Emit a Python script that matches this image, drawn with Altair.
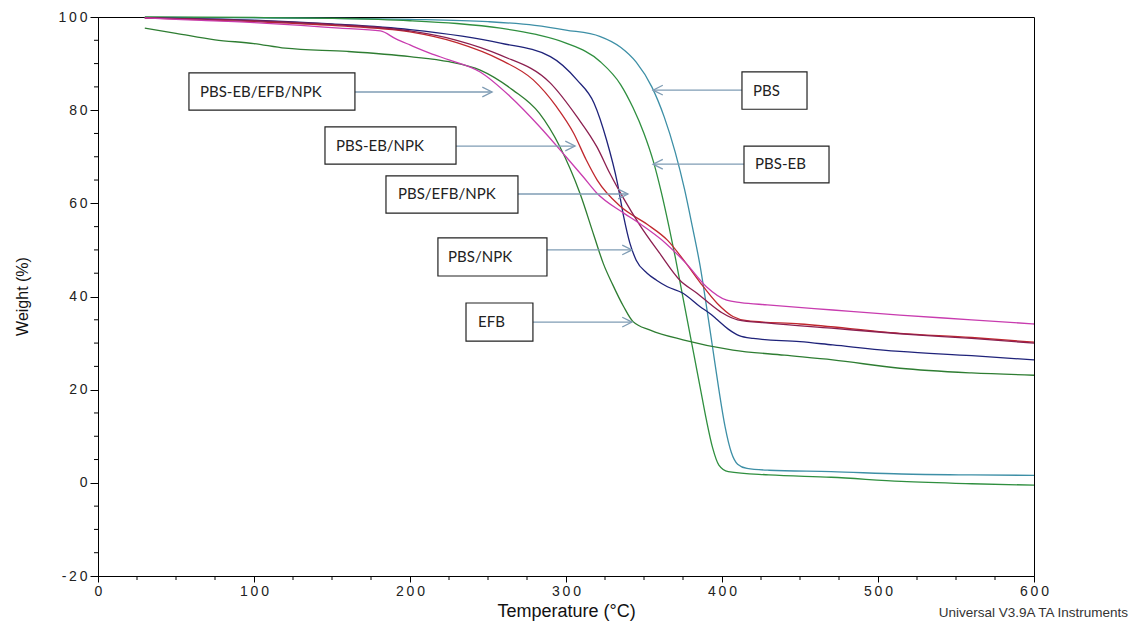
import altair as alt
import pandas as pd

# ---------------- data ----------------
SERIES = ["PBS", "PBS-EB", "EFB", "PBS/NPK", "PBS/EFB/NPK", "PBS-EB/NPK", "PBS-EB/EFB/NPK"]
COLORS = ["#3d8fa6", "#2f8f3f", "#2e7d32", "#1f237a", "#c0282e", "#8b1f4f", "#c83caf"]

PBS_T = [30, 100, 150, 200, 250, 280, 300, 322, 335, 345, 355, 363, 370, 376, 381, 386, 390, 394, 398, 402, 406, 410, 416, 430, 470, 515, 560, 600]
PBS_W = [99.9, 99.8, 99.7, 99.5, 99.0, 98.2, 97.2, 95.8, 93.5, 90.3, 85.0, 78.5, 71, 63, 55, 46.5, 38, 29, 20, 12, 6.5, 4.0, 3.1, 2.7, 2.4, 1.9, 1.7, 1.6]

PBSEB_T = [30, 100, 150, 200, 230, 258, 280, 300, 322, 335, 343, 350, 356, 361, 366, 370, 374, 378, 382, 386, 390, 394, 398, 404, 430, 470, 515, 560, 600]
PBSEB_W = [100, 99.9, 99.7, 99.2, 98.6, 97.6, 96.3, 94.4, 90.4, 85.5, 80.5, 75, 69, 62.5, 55, 48.5, 41.5, 34.5, 27.5, 20.5, 13.5, 7.5, 3.8, 2.4, 1.7, 1.2, 0.3, -0.2, -0.5]

EFB_T = [30, 50, 75, 100, 120, 160, 200, 225, 245, 266, 283, 296, 309, 318, 324, 330, 337, 343, 354, 375, 407, 440, 471, 514, 560, 600]
EFB_W = [97.6, 96.5, 95.1, 94.3, 93.3, 92.6, 91.5, 90.4, 88.6, 84.3, 79.3, 72.2, 62.1, 53, 47, 42.5, 37.8, 34.6, 32.8, 30.7, 28.5, 27.4, 26.4, 24.6, 23.6, 23.1]

PBSNPK_T = [30, 100, 150, 200, 258, 290, 307, 318, 326, 333, 337, 341, 345, 352, 358, 365, 375, 386, 392, 397, 404, 411, 420, 450, 471, 514, 560, 600]
PBSNPK_W = [99.8, 99.3, 98.5, 97.3, 94.4, 91.5, 86.5, 81.5, 73.6, 64.3, 57.1, 51.4, 47.8, 45, 43.5, 42.1, 40.7, 37.8, 36.4, 35.0, 33.0, 31.6, 31.0, 30.3, 29.6, 28.2, 27.3, 26.4]

PBSEFBNPK_T = [30, 100, 150, 200, 230, 258, 279, 294, 305, 313, 320, 335, 352, 365, 377, 386, 397, 407, 416, 450, 514, 560, 600]
PBSEFBNPK_W = [99.8, 99.0, 98.2, 96.8, 94.5, 90.8, 86.5, 80.7, 75, 69.3, 65, 59.3, 55.5, 52.1, 47.1, 43, 38.5, 35.7, 34.8, 34.1, 32.1, 31.2, 30.2]

PBSEBNPK_T = [30, 100, 150, 200, 230, 258, 290, 307, 320, 328, 337, 347, 360, 373, 384, 392, 400, 410, 430, 470, 514, 560, 600]
PBSEBNPK_W = [99.8, 99.2, 98.4, 97.0, 95.0, 91.8, 85.8, 78.6, 72.0, 66.5, 61.0, 55.5, 49.3, 43.5, 40.7, 38.5, 36.5, 35, 34.3, 33.2, 32, 31, 30]

PBSEBEFBNPK_T = [30, 50, 100, 130, 155, 181, 191, 200, 213, 225, 245, 264, 283, 300, 311, 320, 337, 347, 364, 377, 390, 403, 412, 429, 471, 514, 560, 600]
PBSEBEFBNPK_W = [99.8, 99.5, 98.8, 98.2, 97.6, 97.0, 95.3, 94.0, 92.2, 90.8, 88.2, 83.0, 76.5, 70, 65.7, 62.1, 57.9, 55.7, 51.4, 47.1, 42.1, 39.2, 38.7, 38.2, 37.1, 36, 35, 34.1]

# annotation boxes and arrows
LABELS = ["PBS-EB/EFB/NPK", "PBS-EB/NPK", "PBS/EFB/NPK", "PBS/NPK", "EFB", "PBS", "PBS-EB"]
BOX_X1 = [58.3, 145.5, 184.6, 217.9, 235.9, 412.8, 414.1]
BOX_X2 = [164.7, 229.5, 269.2, 287.8, 278.8, 454.5, 468.6]
BOX_TOP = [88.0, 76.4, 65.9, 52.6, 38.6, 88.2, 72.3]
BOX_BOT = [80.0, 68.4, 57.9, 44.4, 30.4, 80.2, 64.4]
TEXT_X = [65.4, 152.6, 192.3, 224.4, 243.6, 419.9, 421.2]
ARROW_Y = [83.9, 72.3, 62.0, 50.0, 34.5, 84.3, 68.4]
ARROW_START = [164.7, 229.5, 269.2, 287.8, 278.8, 412.8, 414.1]
ARROW_TIP = [252.6, 305.8, 339.7, 342.3, 342.3, 355.8, 355.8]
ARROW_ANGLE = [0, 0, 0, 0, 0, 180, 180]

X_MAJOR = [0, 100, 200, 300, 400, 500, 600]
Y_MAJOR = [-20, 0, 20, 40, 60, 80, 100]
X_MINOR = [25, 50, 75, 125, 150, 175, 225, 250, 275, 325, 350, 375, 425, 450, 475, 525, 550, 575]
Y_MINOR = [-15, -10, -5, 5, 10, 15, 25, 30, 35, 45, 50, 55, 65, 70, 75, 85, 90, 95]

FOOTER = "Universal V3.9A TA Instruments"

# ---------------- tables ----------------
CURVES = {
    "PBS": (PBS_T, PBS_W),
    "PBS-EB": (PBSEB_T, PBSEB_W),
    "EFB": (EFB_T, EFB_W),
    "PBS/NPK": (PBSNPK_T, PBSNPK_W),
    "PBS/EFB/NPK": (PBSEFBNPK_T, PBSEFBNPK_W),
    "PBS-EB/NPK": (PBSEBNPK_T, PBSEBNPK_W),
    "PBS-EB/EFB/NPK": (PBSEBEFBNPK_T, PBSEBEFBNPK_W),
}
rows = []
for name, (ts, ws) in CURVES.items():
    for t, w in zip(ts, ws):
        rows.append({"series": name, "T": t, "W": w})
curves = pd.DataFrame(rows)

boxes = pd.DataFrame({
    "label": LABELS, "x1": BOX_X1, "x2": BOX_X2, "top": BOX_TOP, "bot": BOX_BOT,
    "tx": TEXT_X, "ay": ARROW_Y, "a0": ARROW_START, "a1": ARROW_TIP, "ang": ARROW_ANGLE,
})
boxes["ty"] = (boxes["top"] + boxes["bot"]) / 2

xminor = pd.DataFrame({"t": X_MINOR})
yminor = pd.DataFrame({"w": Y_MINOR})
footer = pd.DataFrame({"txt": [FOOTER]})

W_PLOT, H_PLOT = 936, 559
xs = alt.Scale(domain=[0, 600], nice=False, zero=False)
ys = alt.Scale(domain=[-20, 100], nice=False, zero=False)
SPACED = "join(split(toString(datum.value), ''), '\u2009')"

x_axis = alt.Axis(values=X_MAJOR, title="Temperature (°C)", grid=False,
                  labelExpr=SPACED, labelFont="Liberation Sans", labelFontSize=14,
                  labelColor="#222222", labelPadding=2, labelFlush=False, labelOverlap=False,
                  tickSize=6, tickColor="#000000", domainColor="#000000",
                  titleFont="Liberation Sans", titleFontSize=18, titleFontWeight="normal",
                  titleColor="#111111", titleX=468, titleY=35, titleBaseline="middle")
y_axis = alt.Axis(values=Y_MAJOR, title="Weight (%)", grid=False,
                  labelExpr=SPACED, labelFont="Liberation Sans", labelFontSize=14,
                  labelColor="#222222", labelPadding=3, labelOverlap=False,
                  tickSize=8, tickColor="#000000", domainColor="#000000",
                  titleFont="Liberation Sans", titleFontSize=16, titleFontWeight="normal",
                  titleColor="#111111", titleX=-76, titleY=279, titleBaseline="middle",
                  titleAlign="center")

X = lambda f: alt.X(f, scale=xs, axis=x_axis)
Y = lambda f: alt.Y(f, scale=ys, axis=y_axis)

lines = alt.Chart(curves).mark_line(interpolate="monotone", strokeWidth=1.3).encode(
    x=X("T:Q"),
    y=Y("W:Q"),
    color=alt.Color("series:N", scale=alt.Scale(domain=SERIES, range=COLORS), legend=None),
    detail="series:N",
)

arrows = alt.Chart(boxes).mark_rule(color="#7f9cb4", strokeWidth=1.3).encode(
    x=X("a0:Q"), x2="a1:Q",
    y=Y("ay:Q"),
)
heads = alt.Chart(boxes).mark_point(
    shape="M-1,-0.5L0,0L-1,0.5", filled=False, size=380, color="#7f9cb4", strokeWidth=1.3, opacity=1
).encode(
    x=X("a1:Q"),
    y=Y("ay:Q"),
    angle=alt.Angle("ang:Q", scale=None),
)
rects = alt.Chart(boxes).mark_rect(fill="white", stroke="#222222", strokeWidth=1.2).encode(
    x=X("x1:Q"), x2="x2:Q",
    y=Y("top:Q"), y2="bot:Q",
)
texts = alt.Chart(boxes).mark_text(align="left", baseline="middle", font="Lato", fontSize=15,
                                   color="#222222").encode(
    x=X("tx:Q"),
    y=Y("ty:Q"),
    text="label:N",
)
xminor_ticks = alt.Chart(xminor).mark_rule(color="#000000", strokeWidth=1).encode(
    x=X("t:Q"),
    y=alt.value(H_PLOT), y2=alt.value(H_PLOT + 4),
)
yminor_ticks = alt.Chart(yminor).mark_rule(color="#000000", strokeWidth=1).encode(
    y=Y("w:Q"),
    x=alt.value(0), x2=alt.value(-4),
)
foot = alt.Chart(footer).mark_text(align="right", baseline="middle", font="Liberation Sans",
                                   fontSize=13.5, color="#333333").encode(
    x=alt.value(1030), y=alt.value(596), text="txt:N",
)

chart = alt.layer(lines, arrows, heads, rects, texts, xminor_ticks, yminor_ticks, foot).properties(
    width=W_PLOT, height=H_PLOT,
    autosize=alt.AutoSizeParams(type="none"),
    padding={"left": 90, "top": 9, "right": 96, "bottom": 46},
).configure(
    background="white",
    view=alt.ViewConfig(stroke="#000000", strokeWidth=1),
)

chart.save("out.html", embed_options={"renderer": "svg", "actions": False})
